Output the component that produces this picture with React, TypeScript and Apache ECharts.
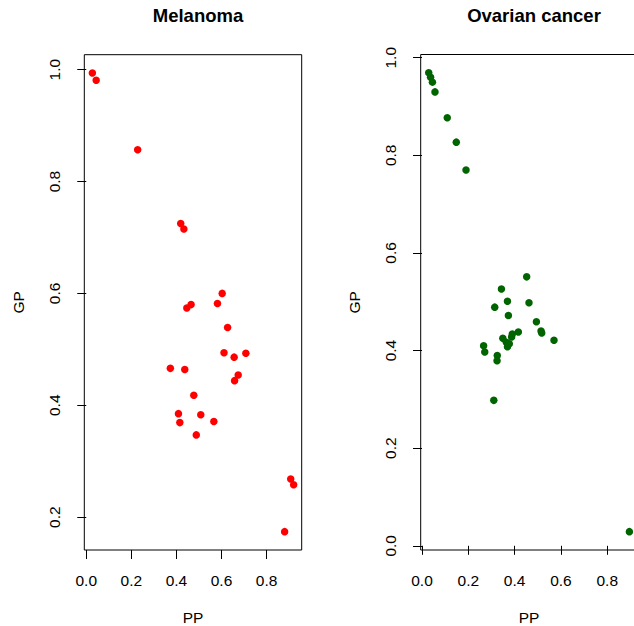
import React, { useEffect, useRef } from "react";
import * as echarts from "echarts";

const melanomaPP = [0.027, 0.044, 0.228, 0.419, 0.433, 0.446, 0.465, 0.582, 0.603, 0.627, 0.373, 0.437, 0.611, 0.656, 0.708, 0.674, 0.658, 0.477, 0.409, 0.415, 0.508, 0.566, 0.488, 0.907, 0.92, 0.88];
const melanomaGP = [0.994, 0.981, 0.857, 0.725, 0.715, 0.574, 0.58, 0.582, 0.6, 0.539, 0.466, 0.464, 0.494, 0.486, 0.493, 0.454, 0.444, 0.418, 0.385, 0.369, 0.383, 0.371, 0.347, 0.268, 0.258, 0.174];

const ovarianPP = [0.029, 0.037, 0.045, 0.056, 0.109, 0.148, 0.19, 0.452, 0.343, 0.369, 0.462, 0.314, 0.373, 0.494, 0.514, 0.517, 0.57, 0.416, 0.39, 0.387, 0.349, 0.364, 0.377, 0.369, 0.266, 0.271, 0.325, 0.324, 0.31, 0.8955];
const ovarianGP = [0.969, 0.96, 0.95, 0.93, 0.877, 0.827, 0.77, 0.551, 0.526, 0.501, 0.498, 0.489, 0.472, 0.459, 0.44, 0.436, 0.421, 0.438, 0.434, 0.428, 0.425, 0.417, 0.414, 0.408, 0.41, 0.397, 0.39, 0.379, 0.298, 0.029];

const xTicksLeft = [0, 0.2, 0.4, 0.6, 0.8];
const yTicksLeft = [0.2, 0.4, 0.6, 0.8, 1.0];
const xTicksRight = [0, 0.2, 0.4, 0.6, 0.8];
const yTicksRight = [0, 0.2, 0.4, 0.6, 0.8, 1.0];

const titles = ["Melanoma", "Ovarian cancer"];
const colors = ["#ff0000", "#006400"];

const FONT = "'Liberation Sans', Arial, Helvetica, sans-serif";

function padRange(vals: number[]) {
  const mn = Math.min(...vals);
  const mx = Math.max(...vals);
  const d = (mx - mn) * 0.04;
  return [mn - d, mx + d];
}

function xAxisCfg(gridIndex: number, vals: number[], ticks: number[]) {
  const [mn, mx] = padRange(vals);
  return {
    type: "value",
    gridIndex,
    min: mn,
    max: mx,
    name: "PP",
    nameLocation: "middle",
    nameGap: 59,
    nameTextStyle: { fontFamily: FONT, fontSize: 15.5, color: "#000" },
    splitLine: { show: false },
    axisLine: { show: false },
    axisTick: { show: true, length: 9, lineStyle: { color: "#000", width: 1 }, customValues: ticks },
    axisLabel: {
      show: true,
      customValues: ticks,
      margin: 22,
      fontFamily: FONT,
      fontSize: 15.5,
      color: "#000",
      formatter: (v: number) => v.toFixed(1),
    },
  };
}

function yAxisCfg(gridIndex: number, vals: number[], ticks: number[]) {
  const [mn, mx] = padRange(vals);
  return {
    type: "value",
    gridIndex,
    min: mn,
    max: mx,
    name: "GP",
    nameLocation: "middle",
    nameGap: 58,
    nameRotate: 90,
    nameTextStyle: { fontFamily: FONT, fontSize: 15.5, color: "#000" },
    splitLine: { show: false },
    axisLine: { show: false },
    axisTick: { show: true, length: 9, lineStyle: { color: "#000", width: 1 }, customValues: ticks },
    axisLabel: {
      show: true,
      customValues: ticks,
      rotate: 90,
      margin: 22,
      fontFamily: FONT,
      fontSize: 15.5,
      color: "#000",
      formatter: (v: number) => v.toFixed(1),
    },
  };
}

export default function App() {
  const ref = useRef<HTMLDivElement>(null);
  useEffect(() => {
    if (!ref.current) return;
    const chart = echarts.init(ref.current, null, { renderer: "svg" });
    const option = {
      animation: false,
      backgroundColor: "#fff",
      title: [
        {
          text: titles[0],
          left: 193,
          top: 1,
          textAlign: "center",
          textStyle: { fontFamily: FONT, fontSize: 18.5, fontWeight: "bold", color: "#000" },
        },
        {
          text: titles[1],
          left: 529,
          top: 1,
          textAlign: "center",
          textStyle: { fontFamily: FONT, fontSize: 18.5, fontWeight: "bold", color: "#000" },
        },
      ],
      grid: [
        { left: 84.3, top: 54.7, width: 217.4, height: 495.3, outerBoundsMode: "none", containLabel: false, show: true, borderColor: "#000", borderWidth: 1, backgroundColor: "transparent" },
        { left: 420.7, top: 54.5, width: 216.7, height: 495.5, outerBoundsMode: "none", containLabel: false, show: true, borderColor: "#000", borderWidth: 1, backgroundColor: "transparent" },
      ],
      xAxis: [xAxisCfg(0, melanomaPP, xTicksLeft), xAxisCfg(1, ovarianPP, xTicksRight)],
      yAxis: [yAxisCfg(0, melanomaGP, yTicksLeft), yAxisCfg(1, ovarianGP, yTicksRight)],
      series: [
        {
          type: "scatter",
          xAxisIndex: 0,
          yAxisIndex: 0,
          symbolSize: 7.5,
          itemStyle: { color: colors[0], opacity: 1 },
          data: melanomaPP.map((x, i) => [x, melanomaGP[i]]),
        },
        {
          type: "scatter",
          xAxisIndex: 1,
          yAxisIndex: 1,
          symbolSize: 7.5,
          itemStyle: { color: colors[1], opacity: 1 },
          data: ovarianPP.map((x, i) => [x, ovarianGP[i]]),
        },
      ],
    };
    chart.setOption(option as any);
    return () => chart.dispose();
  }, []);
  return (
    <div style={{ position: "fixed", left: 0, top: 0, width: 634, height: 626, overflow: "hidden", background: "#fff" }}>
      <div ref={ref} style={{ width: 700, height: 626 }} />
    </div>
  );
}
